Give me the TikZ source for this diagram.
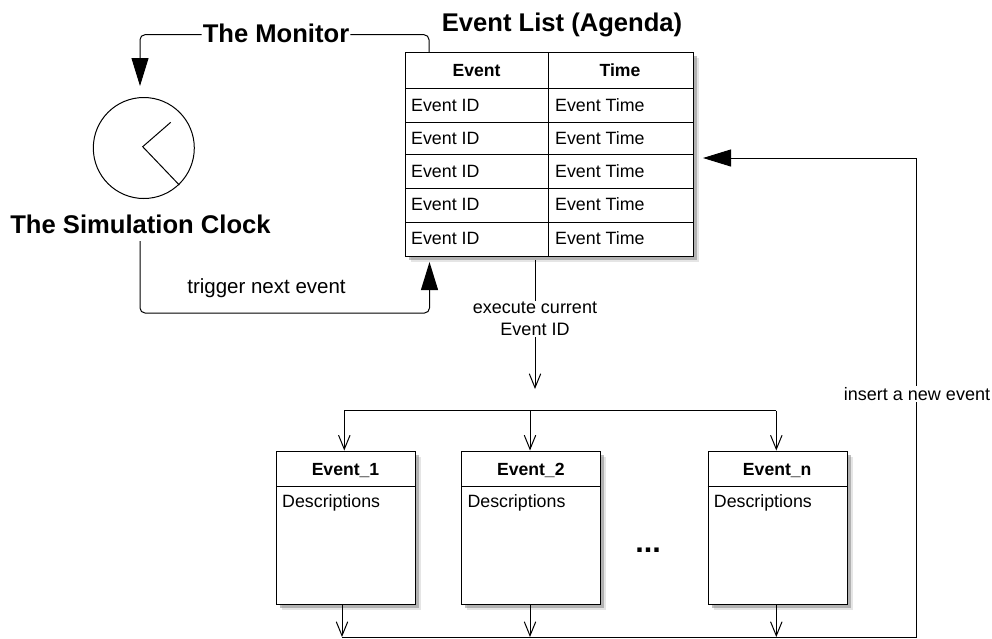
\documentclass[tikz,border=0pt]{standalone}
\usepackage{fontspec}
\setmainfont{Liberation Sans}
\usetikzlibrary{arrows.meta, positioning, shadows}

\tikzset{
    bigtip/.style={-{Triangle[length=28pt, width=17pt]}},
    opentip/.style={-{Straight Barb[length=14pt, width=11.5pt]}},
    wire/.style={line width=1pt, black},
    softshadow/.style={
        drop shadow={shadow xshift=5.5pt, shadow yshift=-5.5pt, fill=black!20},
        drop shadow={shadow xshift=3.5pt, shadow yshift=-3.5pt, fill=black!50}},
    framebox/.style={draw, line width=1.1pt, fill=white, anchor=north west, inner sep=0pt, softshadow},
    celltext/.style={anchor=west, inner sep=0pt, font=\fontsize{17.8}{20}\selectfont},
    headtext/.style={anchor=base, inner sep=0pt, font=\fontsize{17.6}{20}\selectfont\bfseries},
    bigtitle/.style={inner sep=1pt, font=\fontsize{25.6}{28}\selectfont\bfseries},
    flowtext/.style={fill=white, inner sep=1pt, align=center, font=\fontsize{18}{22}\selectfont}
}

\begin{document}
\begin{tikzpicture}[x=1pt, y=-1pt]
    \useasboundingbox (0,0) rectangle (992,638);

    % The clock and its hands
    \node[draw, circle, line width=1pt, minimum size=101pt, inner sep=0pt] (clock) at (143.8,148) {};
    \coordinate (pivot) at (142.7,146.7);
    \coordinate (shorthand) at (170.7,122.3);
    \coordinate (longhand) at (179.3,185);
    \draw[wire] (shorthand) -- (pivot) -- (longhand);
    \node[bigtitle] (clocktitle) at (140.5,224) {The Simulation Clock};

    % The event list
    \node[framebox, minimum width=288pt, minimum height=204pt] (agenda) at (405,52) {};
    \node[bigtitle, anchor=base] (agendatitle) at (562,31) {Event List (Agenda)};
    \draw[line width=1.1pt] (548.7,52) -- (548.7,256);
    \foreach \y in {88,122,154,188,222}
        \draw[line width=1pt] (405,\y) -- (693,\y);
    \node[headtext] (eventhead) at (476.5,76) {Event};
    \node[headtext] (timehead) at (620,76) {Time};
    \foreach \i/\y in {1/105,2/138,3/171,4/204,5/238.5} {
        \node[celltext] (id\i) at (411,\y) {Event ID};
        \node[celltext] (time\i) at (555,\y) {Event Time};
    }

    % The event boxes
    \foreach \name/\x/\title in {event1/276/Event\_1, event2/461.3/Event\_2, eventn/707.7/Event\_n} {
        \node[framebox, minimum width=139pt, minimum height=153.5pt] (\name) at (\x,450.5) {};
        \draw[line width=1pt] (\x,486) -- ++(139,0);
        \node[headtext] (\name head) at (\x+69.5,475) {\title};
        \node[celltext] (\name text) at (\x+6,503) {Descriptions};
    }
    \node[bigtitle, anchor=base, font=\fontsize{30.6}{32}\selectfont\bfseries] (dots) at (648,552) {...};

    % The monitor loop
    \node[bigtitle, text height=18.3pt, text depth=3.7pt] (monitor) at (276,34.7) {The Monitor};
    \coordinate (monitorstart) at (429,52);
    \coordinate (clockin) at (140,86);
    \draw[wire, rounded corners=5pt] (monitorstart) |- (monitor.east);
    \draw[wire, bigtip, rounded corners=5pt] (monitor.west) -| (clockin);

    % Trigger for the next event
    \coordinate (clockout) at (140,241);
    \coordinate (triggercorner) at (429.5,313);
    \coordinate (agendain) at (429.5,262);
    \draw[wire, bigtip, rounded corners=5pt] (clockout) |- (triggercorner) -- (agendain);
    \node[inner sep=0pt, font=\fontsize{20.5}{24}\selectfont] (triggertext) at (266.5,288) {trigger next event};

    % From the list down to the events
    \coordinate (agendaout) at (535,260);
    \coordinate (executeend) at (535,389);
    \draw[wire, opentip] (agendaout) -- (executeend);
    \node[flowtext] (executetext) at (535,319) {execute current\\Event ID};
    \coordinate (busleft) at (344.3,410.5);
    \coordinate (busmid) at (530,410.5);
    \coordinate (busright) at (776.3,410.5);
    \draw[wire] (busleft) -- (busright);
    \draw[wire, opentip] (busleft) -- (event1.north -| busleft);
    \draw[wire, opentip] (busmid) -- (event2.north -| busmid);
    \draw[wire, opentip] (busright) -- (eventn.north -| busright);

    % Back to the list
    \coordinate (returnleft) at (342,637);
    \coordinate (returnmid) at (530,637);
    \coordinate (returnnew) at (776.3,637);
    \coordinate (returncorner) at (916.7,637);
    \coordinate (agendaback) at (703,158);
    \draw[wire, opentip] (event1.south -| returnleft) -- (returnleft);
    \draw[wire, opentip] (event2.south -| returnmid) -- (returnmid);
    \draw[wire, opentip] (eventn.south -| returnnew) -- (returnnew);
    \draw[wire, bigtip] (returnleft) -- (returncorner) |- (agendaback);
    \node[flowtext] (inserttext) at (917,394) {insert a new event};
\end{tikzpicture}
\end{document}
